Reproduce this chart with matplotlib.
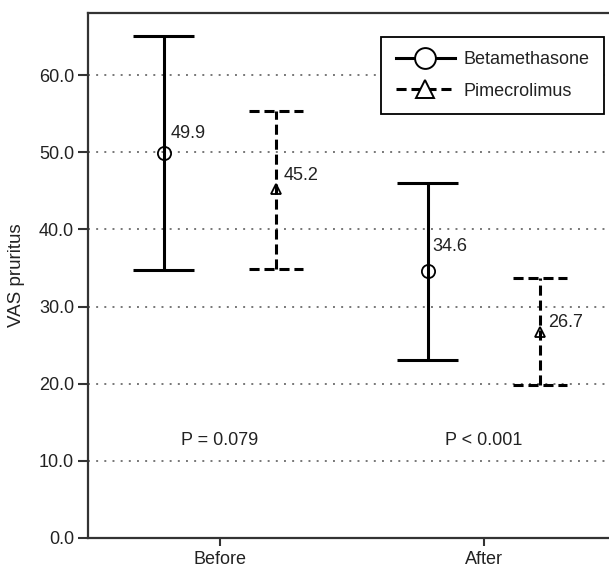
import matplotlib
matplotlib.use("Agg")
from matplotlib import pyplot as plt
from matplotlib.lines import Line2D

plt.rcParams['font.family'] = ['Liberation Sans', 'DejaVu Sans']

groups = ["Before", "After"]
beta_mean = [49.9, 34.6]
beta_low = [34.7, 23.1]
beta_high = [65.1, 46.0]
pime_mean = [45.2, 26.7]
pime_low = [34.9, 19.8]
pime_high = [55.4, 33.7]
p_labels = ["P = 0.079", "P < 0.001"]
p_label_y = 12.6

# layout
x_pos = [1, 2]
shift = 0.213
beta_cap = 0.115
pime_cap = 0.103
beta_offsets = [(5, 14), (3, 18)]
pime_offsets = [(5, 10), (6, 7)]
lw = 2.2
dash = (0, (3.3, 1.6))
text_col = "#222222"
fs = 13

fig = plt.figure(figsize=(6.09, 5.70), dpi=100)
ax = fig.add_axes([88 / 609, 32 / 570, 528 / 609, 524.7 / 570])

for y in [10, 20, 30, 40, 50, 60]:
    ax.axhline(y, color="#777777", lw=1.4, linestyle=(0, (1, 3.2)), zorder=0)

bx = [x - shift for x in x_pos]
px = [x + shift for x in x_pos]

ax.vlines(bx, beta_low, beta_high, color="black", lw=lw)
ax.hlines(beta_low, [x - beta_cap for x in bx], [x + beta_cap for x in bx], color="black", lw=lw)
ax.hlines(beta_high, [x - beta_cap for x in bx], [x + beta_cap for x in bx], color="black", lw=lw)
ax.plot(bx, beta_mean, linestyle="none", marker="o", markersize=9.5, markerfacecolor="none",
        markeredgecolor="black", markeredgewidth=1.3)

ax.vlines(px, pime_low, pime_high, color="black", lw=lw, linestyles=[dash])
ax.hlines(pime_low, [x - pime_cap for x in px], [x + pime_cap for x in px], color="black", lw=lw,
          linestyles=[dash])
ax.hlines(pime_high, [x - pime_cap for x in px], [x + pime_cap for x in px], color="black", lw=lw,
          linestyles=[dash])
ax.plot(px, pime_mean, linestyle="none", marker="^", markersize=7, markerfacecolor="none",
        markeredgecolor="black", markeredgewidth=1.3)

for i in range(len(groups)):
    ax.annotate("%.1f" % beta_mean[i], (bx[i], beta_mean[i]), xytext=beta_offsets[i],
                textcoords="offset points", ha="left", va="center", fontsize=fs, color=text_col)
    ax.annotate("%.1f" % pime_mean[i], (px[i], pime_mean[i]), xytext=pime_offsets[i],
                textcoords="offset points", ha="left", va="center", fontsize=fs, color=text_col)
    ax.text(x_pos[i], p_label_y, p_labels[i], ha="center", va="center", fontsize=fs, color=text_col)

ax.set_xlim(0.5, 2.5)
ax.set_ylim(0, 68)
ax.set_xticks(x_pos)
ax.set_xticklabels(groups)
ax.set_yticks([0, 10, 20, 30, 40, 50, 60])
ax.set_yticklabels(["%.1f" % v for v in [0, 10, 20, 30, 40, 50, 60]])
ax.tick_params(axis="both", labelsize=fs, colors="#333333", labelcolor=text_col, width=1.5)
ax.tick_params(axis="y", length=7, pad=3)
ax.tick_params(axis="x", length=6, pad=3)
ax.set_ylabel("VAS pruritus", fontsize=13.5, color=text_col, labelpad=10)

ax.spines["right"].set_visible(False)
for side in ["left", "bottom", "top"]:
    ax.spines[side].set_linewidth(1.6)
    ax.spines[side].set_color("#333333")

handles = [
    Line2D([], [], color="black", lw=lw, marker="o", markersize=15, markerfacecolor="white",
           markeredgecolor="black", markeredgewidth=1.4),
    Line2D([], [], color="black", lw=lw, linestyle=dash, marker="^", markersize=13,
           markerfacecolor="white", markeredgecolor="black", markeredgewidth=1.4),
]
leg = ax.legend(handles, ["Betamethasone", "Pimecrolimus"], loc="upper right",
                bbox_to_anchor=(0.977, 0.955), borderaxespad=0, fontsize=fs,
                handlelength=3.3, handletextpad=0.45, labelspacing=0.8, borderpad=0.8,
                fancybox=False, framealpha=1, edgecolor="black")
leg.get_frame().set_linewidth(1.3)
for t in leg.get_texts():
    t.set_color(text_col)

fig.savefig("out.png", dpi=100)
